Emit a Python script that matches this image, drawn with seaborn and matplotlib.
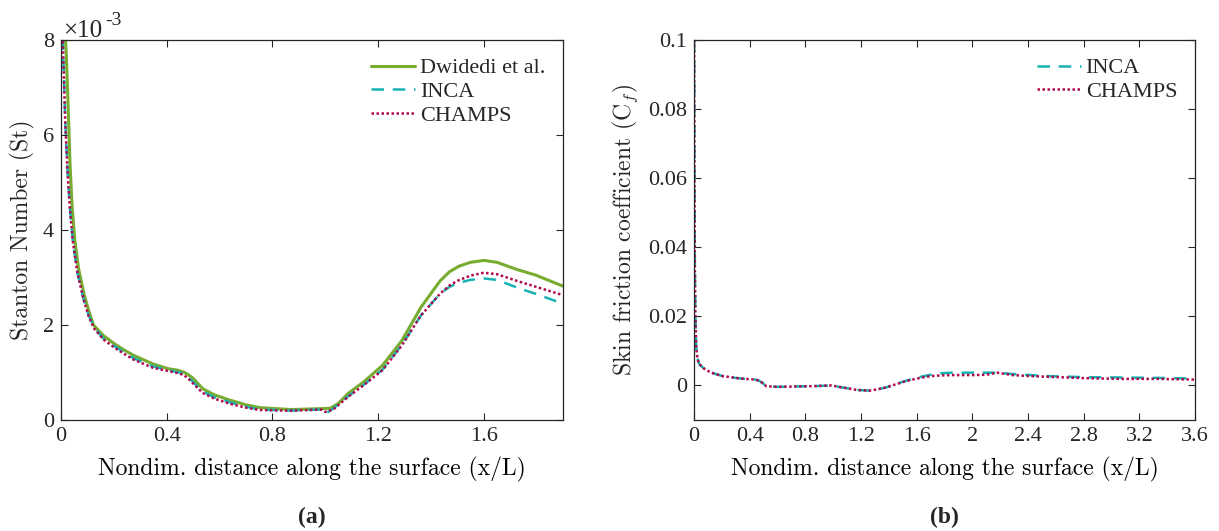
import matplotlib
matplotlib.use("Agg")
import matplotlib.pyplot as plt
import seaborn as sns
import numpy as np

# ---------------- data ----------------
# (a) Stanton number, values in units of 1e-3
dw_x = [0.012, 0.020, 0.027, 0.034, 0.042, 0.052, 0.066, 0.087, 0.105, 0.123, 0.160, 0.203, 0.240,
        0.275, 0.348, 0.406, 0.440, 0.464, 0.480, 0.500, 0.536, 0.580, 0.638, 0.700, 0.754,
        0.870, 0.993, 1.020, 1.050, 1.087, 1.145, 1.217, 1.290, 1.362, 1.435, 1.470, 1.507,
        1.550, 1.601, 1.650, 1.725, 1.797, 1.899]
dw_st = [8.5, 7.7, 6.6, 5.4, 4.5, 3.8, 3.2, 2.65, 2.3, 2.0, 1.78, 1.60, 1.47,
         1.36, 1.18, 1.08, 1.05, 1.01, 0.96, 0.88, 0.66, 0.53, 0.42, 0.32, 0.26,
         0.22, 0.24, 0.25, 0.35, 0.56, 0.80, 1.15, 1.67, 2.37, 2.93, 3.12, 3.24,
         3.32, 3.36, 3.32, 3.17, 3.05, 2.82]

inca_x = [0.004, 0.010, 0.016, 0.024, 0.033, 0.045, 0.062, 0.085, 0.105, 0.125, 0.160, 0.203,
          0.240, 0.275, 0.348, 0.406, 0.440, 0.464, 0.480, 0.500, 0.536, 0.580, 0.640, 0.700,
          0.754, 0.870, 0.985, 1.000, 1.030, 1.087, 1.145, 1.217, 1.290, 1.362, 1.435, 1.470,
          1.500, 1.550, 1.600, 1.650, 1.725, 1.800, 1.899]
inca_st = [8.5, 7.4, 6.3, 5.3, 4.5, 3.75, 3.1, 2.55, 2.2, 1.95, 1.72, 1.55,
           1.42, 1.30, 1.13, 1.05, 1.01, 0.98, 0.92, 0.80, 0.60, 0.48, 0.37, 0.28,
           0.22, 0.20, 0.22, 0.13, 0.24, 0.50, 0.74, 1.06, 1.58, 2.20, 2.66, 2.80,
           2.88, 2.95, 2.98, 2.95, 2.79, 2.65, 2.45]

champs_x = [0.004, 0.010, 0.016, 0.024, 0.033, 0.045, 0.062, 0.085, 0.105, 0.125, 0.160, 0.203,
            0.240, 0.275, 0.348, 0.406, 0.440, 0.464, 0.480, 0.500, 0.536, 0.580, 0.640, 0.700,
            0.754, 0.870, 0.985, 1.000, 1.030, 1.087, 1.145, 1.217, 1.290, 1.362, 1.435, 1.470,
            1.500, 1.550, 1.600, 1.650, 1.725, 1.800, 1.899]
champs_st = [8.5, 7.4, 6.3, 5.3, 4.5, 3.75, 3.1, 2.55, 2.18, 1.93, 1.70, 1.52,
             1.39, 1.27, 1.10, 1.03, 0.99, 0.95, 0.88, 0.77, 0.57, 0.45, 0.34, 0.26,
             0.21, 0.195, 0.22, 0.17, 0.22, 0.49, 0.73, 1.05, 1.57, 2.20, 2.66, 2.83,
             2.93, 3.04, 3.10, 3.07, 2.93, 2.80, 2.63]

# (b) skin friction coefficient
cf_x = [0.001, 0.003, 0.006, 0.010, 0.016, 0.025, 0.036, 0.055, 0.075, 0.105, 0.140, 0.206,
        0.336, 0.440, 0.466, 0.490, 0.518, 0.596, 0.857, 0.987, 1.040, 1.100, 1.170, 1.260,
        1.320, 1.378, 1.440, 1.510, 1.580, 1.640, 1.700, 1.770, 1.850, 2.000, 2.100, 2.180,
        2.290, 2.420, 2.550, 2.810, 3.070, 3.330, 3.600]
inca_cf = [0.100, 0.065, 0.035, 0.020, 0.0110, 0.0078, 0.0063, 0.0055, 0.0048, 0.0041, 0.0035, 0.0027,
           0.0020, 0.0017, 0.0014, 0.0008, -0.0002, -0.0004, -0.0002, 0.0000, -0.0004, -0.0008, -0.0013, -0.0015,
           -0.0011, -0.0006, 0.0002, 0.0012, 0.0020, 0.0026, 0.0031, 0.0035, 0.0037, 0.0037,
           0.0037, 0.0037, 0.0033, 0.0030, 0.0027, 0.0024, 0.0023, 0.0022, 0.0020]
champs_cf = [0.100, 0.065, 0.035, 0.020, 0.0110, 0.0078, 0.0063, 0.0055, 0.0048, 0.0041, 0.0035, 0.0027,
             0.0020, 0.0017, 0.0014, 0.0008, -0.0002, -0.0004, -0.0002, 0.0000, -0.0004, -0.0008, -0.0013, -0.0015,
             -0.0011, -0.0006, 0.0002, 0.0011, 0.0018, 0.0023, 0.0027, 0.0029, 0.0030, 0.0030,
             0.0031, 0.0037, 0.0030, 0.0027, 0.0025, 0.0021, 0.0019, 0.0019, 0.0017]

xt_a = [0, 0.4, 0.8, 1.2, 1.6]
xt_a_lbl = ["0", "0.4", "0.8", "1.2", "1.6"]
yt_a = [0, 2, 4, 6, 8]
xt_b = [0, 0.4, 0.8, 1.2, 1.6, 2, 2.4, 2.8, 3.2, 3.6]
xt_b_lbl = ["0", "0.4", "0.8", "1.2", "1.6", "2", "2.4", "2.8", "3.2", "3.6"]
yt_b = [0, 0.02, 0.04, 0.06, 0.08, 0.1]
yt_b_lbl = ["0", "0.02", "0.04", "0.06", "0.08", "0.1"]

# ---------------- style ----------------
sns.set_style("ticks")
plt.rcParams["font.family"] = "serif"
plt.rcParams["font.serif"] = ["Liberation Serif", "Times New Roman", "Nimbus Roman", "DejaVu Serif"]
plt.rcParams["mathtext.fontset"] = "cm"

GREEN = "#77AC30"
CYAN = "#17B3B3"
CRIMSON = "#B0084E"
AXC = "#262626"
TXT = "#262626"

fig = plt.figure(figsize=(12.19, 5.31), dpi=100)
axa = fig.add_axes([61/1219, 1-420/531, (563-61)/1219, (420-40)/531])
axb = fig.add_axes([694/1219, 1-420/531, (1195-694)/1219, (420-40)/531])

lw = 1.8
sns.lineplot(x=dw_x, y=dw_st, ax=axa, color=GREEN, lw=2.2, sort=False,
             label="Dwidedi et al.")
sns.lineplot(x=inca_x, y=inca_st, ax=axa, color=CYAN, lw=lw, sort=False,
             linestyle=(0, (5, 3.5)), label="INCA")
sns.lineplot(x=champs_x, y=champs_st, ax=axa, color=CRIMSON, lw=lw, sort=False,
             linestyle=(0, (1, 1)), label="CHAMPS")

sns.lineplot(x=cf_x, y=inca_cf, ax=axb, color=CYAN, lw=lw, sort=False,
             linestyle=(0, (5, 3.5)), label="INCA")
sns.lineplot(x=cf_x, y=champs_cf, ax=axb, color=CRIMSON, lw=lw, sort=False,
             linestyle=(0, (1, 1)), label="CHAMPS")

axa.set_xlim(0, 1.9)
axa.set_ylim(0, 8)
axa.set_xticks(xt_a, xt_a_lbl)
axa.set_yticks(yt_a, [str(v) for v in yt_a])
axb.set_xlim(0, 3.6)
axb.set_ylim(-0.01, 0.1)
axb.set_xticks(xt_b, xt_b_lbl)
axb.set_yticks(yt_b, yt_b_lbl)

for ax in (axa, axb):
    for s in ax.spines.values():
        s.set_visible(True)
        s.set_color(AXC)
        s.set_linewidth(0.9)
    ax.tick_params(direction="in", length=5, width=0.8, color=AXC,
                   top=True, right=True, labelsize=16, labelcolor=TXT, pad=5)
    ax.set_xlabel("Nondim. distance along the surface (x/L)", fontfamily="cmr10",
                  fontsize=17, color="black", labelpad=8)
    leg = ax.legend(loc="upper right", frameon=False, fontsize=16,
                    handlelength=2.0, handletextpad=0.2, labelspacing=0.15,
                    borderaxespad=0.4)

axa.set_ylabel("Stanton Number (St)", fontfamily="cmr10", fontsize=17, labelpad=6)
axb.set_ylabel("Skin friction coefficient (C$_f$)", fontfamily="cmr10", fontsize=17, labelpad=6)

# exponent marker
axa.text(0.004, 0.995, "×10", transform=axa.transAxes, fontsize=18, color=TXT,
         ha="left", va="bottom")
axa.text(0.088, 1.03, "-3", transform=axa.transAxes, fontsize=14, color=TXT,
         ha="left", va="bottom")

fig.text(312/1219, 1-517/531, "(a)", ha="center", va="center", fontsize=17, fontweight="bold")
fig.text(944/1219, 1-517/531, "(b)", ha="center", va="center", fontsize=17, fontweight="bold")

fig.savefig("out.png", dpi=100)
